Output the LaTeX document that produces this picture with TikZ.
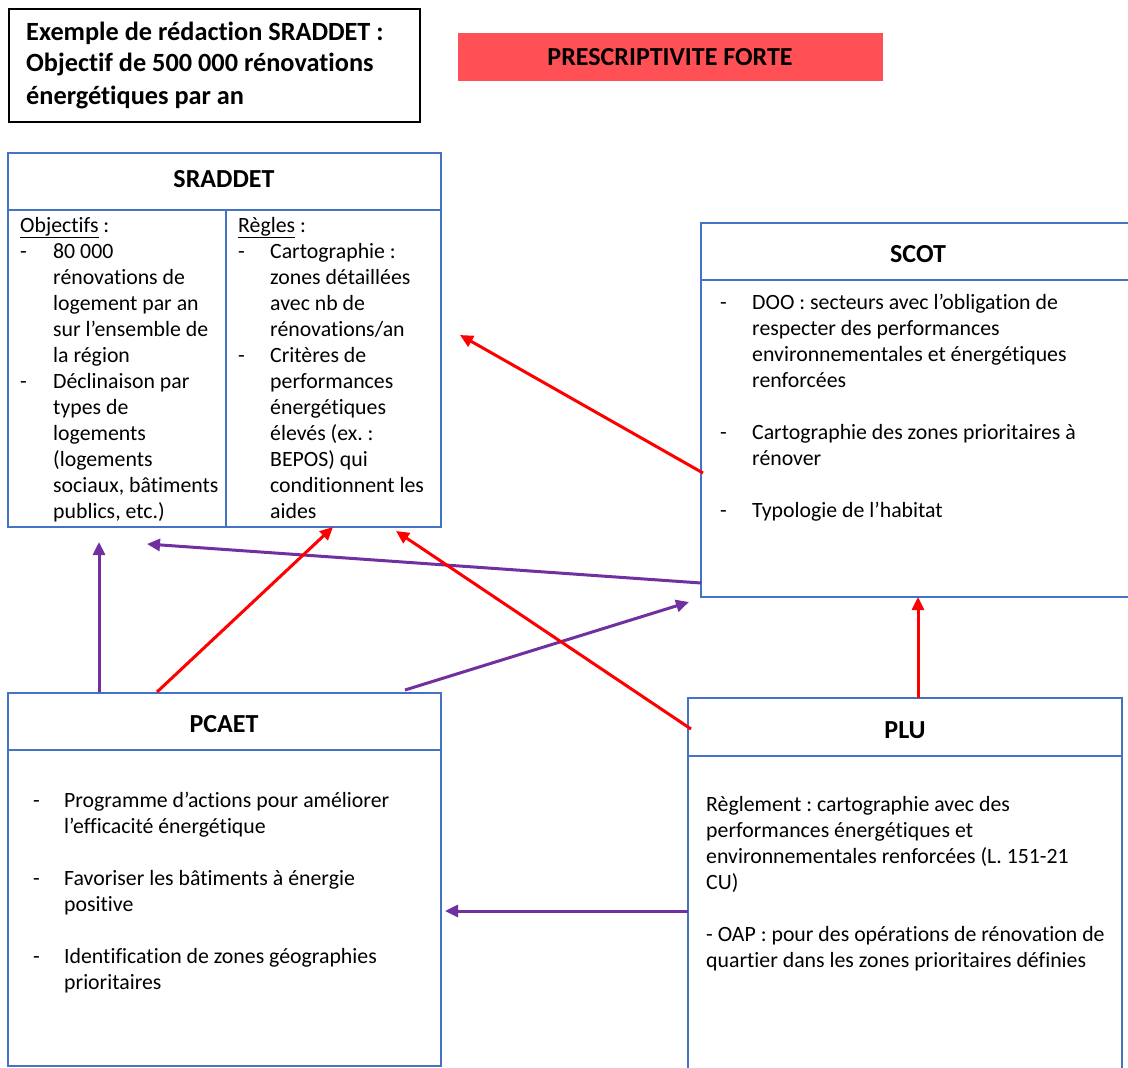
\documentclass[tikz,border=0pt]{standalone}
\usepackage{fontspec}
\setmainfont{Carlito}[Ligatures=NoCommon]
\usetikzlibrary{arrows.meta}
\definecolor{bxblue}{HTML}{4472C4}
\definecolor{arred}{HTML}{FF0000}
\definecolor{arpurp}{HTML}{7030A0}
\definecolor{banner}{HTML}{FF5055}
\tikzset{
  bx/.style={draw=bxblue, line width=2pt, anchor=north west, inner sep=0pt, outer sep=0pt},
  divline/.style={draw=bxblue, line width=2pt},
  hdr/.style={font=\fontsize{26}{30}\selectfont\bfseries, inner sep=0pt},
  body/.style={font=\fontsize{21.8}{26}\selectfont, inner sep=0pt, anchor=base west},
  redar/.style={draw=arred, line width=3pt, -{Triangle[length=13pt,width=12pt]}},
  purar/.style={draw=arpurp, line width=3pt, -{Triangle[length=13pt,width=12pt]}},
}
\newcommand{\lst}[2]{\begin{tabular}[t]{@{}p{#1}@{}l@{}}#2\end{tabular}}
\begin{document}
\frenchspacing
\begin{tikzpicture}[x=1pt,y=-1pt]
\useasboundingbox (0,0) rectangle (1128,1068);
\fill[white] (0,0) rectangle (1128,1068);

% title box
\node[draw=black, line width=2pt, anchor=north west, minimum width=411pt, minimum height=113pt, inner sep=0pt] (title) at (8,8) {};
\node[font=\fontsize{26.3}{32}\selectfont\bfseries, inner sep=0pt, anchor=base west] (titletxt) at (26,40)
  {\begin{tabular}[t]{@{}l@{}}Exemple de rédaction SRADDET :\\Objectif de 500 000 rénovations\\énergétiques par an\end{tabular}};

% banner
\node[fill=banner, anchor=north west, minimum width=425pt, minimum height=48pt, inner sep=0pt] (banner) at (458,33) {};
\node[hdr] (bannertxt) at (670,57) {PRESCRIPTIVITE FORTE};

% SRADDET
\node[bx, minimum width=433pt, minimum height=374pt] (sraddet) at (8,153) {};
\draw[divline] (8,210) -- (441,210);
\draw[divline] (226,210) -- (226,527);
\node[hdr] (sraddeth) at (224,179) {SRADDET};
\node[body] (sraddetl) at (20,232) {\lst{33pt}{%
\multicolumn{2}{@{}l@{}}{\underline{Objectifs} :}\\
-&80 000\\
&rénovations de\\
&logement par an\\
&sur l’ensemble de\\
&la région\\
-&Déclinaison par\\
&types de\\
&logements\\
&(logements\\
&sociaux, bâtiments\\
&publics, etc.)}};
\node[body] (sraddetr) at (238,232) {\lst{32pt}{%
\multicolumn{2}{@{}l@{}}{\underline{Règles} :}\\
-&Cartographie :\\
&zones détaillées\\
&avec nb de\\
&rénovations/an\\
-&Critères de\\
&performances\\
&énergétiques\\
&élevés (ex. :\\
&BEPOS) qui\\
&conditionnent les\\
&aides}};

% SCOT
\node[bx, minimum width=440pt, minimum height=374pt] (scot) at (701,223) {};
\draw[divline] (701,280) -- (1141,280);
\node[hdr] (scoth) at (918,254) {SCOT};
\node[body] (scottxt) at (720,309) {\lst{32pt}{%
-&DOO : secteurs avec l’obligation de\\
&respecter des performances\\
&environnementales et énergétiques\\
&renforcées\\
&\\
-&Cartographie des zones prioritaires à\\
&rénover\\
&\\
-&Typologie de l’habitat}};

% PCAET
\node[bx, minimum width=433pt, minimum height=373pt] (pcaet) at (8,693) {};
\draw[divline] (8,750) -- (441,750);
\node[hdr] (pcaeth) at (224,724) {PCAET};
\node[body] (pcaettxt) at (33,807) {\lst{31pt}{%
-&Programme d’actions pour améliorer\\
&l’efficacité énergétique\\
&\\
-&Favoriser les bâtiments à énergie\\
&positive\\
&\\
-&Identification de zones géographies\\
&prioritaires}};

% PLU
\node[bx, minimum width=434pt, minimum height=390pt] (plu) at (688,698) {};
\draw[divline] (688,756) -- (1122,756);
\node[hdr] (pluh) at (905,730) {PLU};
\node[body] (plutxt) at (706,811) {\begin{tabular}[t]{@{}l@{}}%
Règlement : cartographie avec des\\
performances énergétiques et\\
environnementales renforcées (L. 151-21\\
CU)\\
\\
- OAP : pour des opérations de rénovation de\\
quartier dans les zones prioritaires définies\end{tabular}};

% arrow end points
\coordinate (a1s) at (703,473); \coordinate (a1e) at (460,335);
\coordinate (a2s) at (701,583); \coordinate (a2e) at (147,544);
\coordinate (a3s) at (99,692);  \coordinate (a3e) at (99,542);
\coordinate (a4s) at (157,692); \coordinate (a4e) at (333,527);
\coordinate (a5s) at (405,690); \coordinate (a5e) at (689,602);
\coordinate (a6s) at (691,729); \coordinate (a6e) at (396,531);
\coordinate (a7s) at (918,698); \coordinate (a7e) at (918,597);
\coordinate (a8s) at (688,911); \coordinate (a8e) at (445,911);

\draw[redar] (a1s) -- (a1e);
\draw[purar] (a2s) -- (a2e);
\draw[purar] (a3s) -- (a3e);
\draw[redar] (a4s) -- (a4e);
\draw[purar] (a5s) -- (a5e);
\draw[redar] (a6s) -- (a6e);
\draw[redar] (a7s) -- (a7e);
\draw[purar] (a8s) -- (a8e);
\end{tikzpicture}
\end{document}
